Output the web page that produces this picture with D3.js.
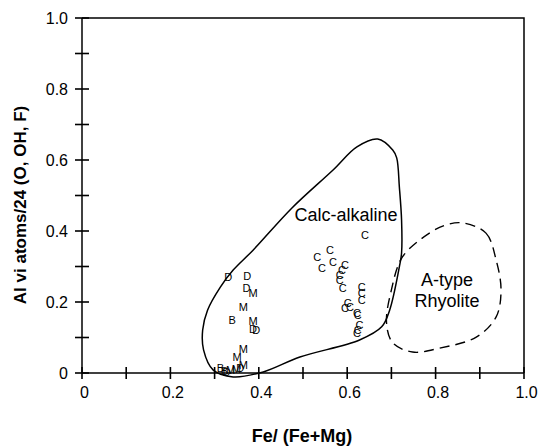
<!DOCTYPE html>
<html>
<head>
<meta charset="utf-8">
<script src="https://cdnjs.cloudflare.com/ajax/libs/d3/7.8.5/d3.min.js"></script>
<style>
    body { margin: 0; background: #fff; }
    svg { font-family: "Liberation Sans", Arial, sans-serif; }
    .axis path { stroke: #000; stroke-width: 1.5; }
    .axis text { font-size: 16px; fill: #000; }
    .tickmark { stroke: #000; stroke-width: 1.6; }
</style>
</head>
<body>
<svg id="chart" width="540" height="447"></svg>
<script>
    // tick values and labels
    const tickValues = [0, 0.1, 0.2, 0.3, 0.4, 0.5, 0.6, 0.7, 0.8, 0.9, 1.0];
    const labelValues = [0, 0.2, 0.4, 0.6, 0.8, 1.0];
    const tickLabels = ["0", "0.2", "0.4", "0.6", "0.8", "1.0"];

    // calc-alkaline field outline [Fe/(Fe+Mg), Al vi]
    const calcAlkaline = [
        [0.342, -0.011], [0.297, 0.008], [0.275, 0.065], [0.273, 0.121], [0.284, 0.177],
        [0.313, 0.242], [0.342, 0.290], [0.387, 0.346], [0.475, 0.465], [0.568, 0.572],
        [0.622, 0.637], [0.669, 0.659], [0.703, 0.628], [0.712, 0.606], [0.718, 0.524],
        [0.723, 0.431], [0.723, 0.338], [0.718, 0.299], [0.696, 0.177], [0.678, 0.130],
        [0.628, 0.093], [0.493, 0.045], [0.410, 0.003]
    ];

    // A-type rhyolite field outline
    const aType = [
        [0.860, 0.423], [0.914, 0.394], [0.937, 0.318], [0.948, 0.234], [0.937, 0.158],
        [0.892, 0.101], [0.809, 0.070], [0.748, 0.059], [0.703, 0.085], [0.689, 0.141],
        [0.700, 0.234], [0.725, 0.327], [0.786, 0.394], [0.824, 0.417]
    ];

    // samples: C
    const samplesC = [
        [0.640, 0.389], [0.532, 0.327], [0.561, 0.346], [0.543, 0.296], [0.568, 0.313],
        [0.595, 0.304], [0.588, 0.290], [0.583, 0.276], [0.583, 0.262], [0.590, 0.239],
        [0.633, 0.242], [0.633, 0.225], [0.633, 0.206], [0.601, 0.197], [0.595, 0.183],
        [0.606, 0.186], [0.622, 0.169], [0.624, 0.163], [0.628, 0.135], [0.624, 0.121],
        [0.622, 0.113]
    ];
    // samples: D
    const samplesD = [
        [0.331, 0.270], [0.374, 0.273], [0.372, 0.239], [0.387, 0.124], [0.394, 0.121],
        [0.327, 0.003], [0.358, 0.014]
    ];
    // samples: M
    const samplesM = [
        [0.387, 0.225], [0.365, 0.186], [0.387, 0.146], [0.365, 0.068], [0.351, 0.045],
        [0.365, 0.023], [0.336, 0.008], [0.349, 0.011]
    ];
    // samples: B
    const samplesB = [
        [0.340, 0.149], [0.313, 0.014], [0.322, 0.006]
    ];

    const svg = d3.select('#chart');

    const x = d3.scaleLinear().domain([0, 1]).range([82, 524]);
    const y = d3.scaleLinear().domain([0, 1]).range([373, 18]);

    // frame top + right
    svg.append('path')
        .attr('d', `M${x(0)},${y(1)}H${x(1)}V${y(0)}`)
        .attr('fill', 'none')
        .attr('stroke', '#000')
        .attr('stroke-width', 1.5);

    const xAxis = svg.append('g')
        .attr('class', 'axis')
        .attr('transform', `translate(0,${y(0)})`)
        .call(d3.axisBottom(x).tickValues(labelValues).tickSize(0).tickPadding(14)
            .tickFormat((d, i) => tickLabels[i]));
    xAxis.select('.domain').attr('d', `M${x(0)},0H${x(1)}`);
    xAxis.selectAll('.tick text').attr('dx', 2);

    const yAxis = svg.append('g')
        .attr('class', 'axis')
        .attr('transform', `translate(${x(0)},0)`)
        .call(d3.axisLeft(y).tickValues(labelValues).tickSize(0).tickPadding(14)
            .tickFormat((d, i) => tickLabels[i]));
    yAxis.select('.domain').attr('d', `M0,${y(0)}V${y(1)}`);

    // crossing tick marks every 0.1
    svg.append('g').selectAll('line')
        .data(tickValues)
        .join('line')
        .attr('class', 'tickmark')
        .attr('x1', d => x(d)).attr('x2', d => x(d))
        .attr('y1', y(0) - 6).attr('y2', y(0) + 6);
    svg.append('g').selectAll('line')
        .data(tickValues)
        .join('line')
        .attr('class', 'tickmark')
        .attr('y1', d => y(d)).attr('y2', d => y(d))
        .attr('x1', x(0) - 7).attr('x2', x(0) + 7);

    const line = d3.line()
        .x(d => x(d[0]))
        .y(d => y(d[1]))
        .curve(d3.curveCatmullRomClosed.alpha(0.5));

    svg.append('path')
        .attr('d', line(calcAlkaline))
        .attr('fill', 'none')
        .attr('stroke', '#000')
        .attr('stroke-width', 1.5);

    svg.append('path')
        .attr('d', line(aType))
        .attr('fill', 'none')
        .attr('stroke', '#000')
        .attr('stroke-width', 1.4)
        .attr('stroke-dasharray', '10,6');

    const groups = [['C', samplesC], ['D', samplesD], ['M', samplesM], ['B', samplesB]];
    groups.forEach(([letter, pts]) => {
        svg.append('g').selectAll('text')
            .data(pts)
            .join('text')
            .attr('x', d => x(d[0]))
            .attr('y', d => y(d[1]))
            .attr('dy', '0.35em')
            .attr('text-anchor', 'middle')
            .attr('font-size', 11)
            .text(letter);
    });

    svg.append('text')
        .attr('x', 346).attr('y', 221)
        .attr('text-anchor', 'middle')
        .attr('font-size', 18)
        .text('Calc-alkaline');

    svg.append('text')
        .attr('x', 447).attr('y', 286)
        .attr('text-anchor', 'middle')
        .attr('font-size', 18)
        .text('A-type');
    svg.append('text')
        .attr('x', 447).attr('y', 307)
        .attr('text-anchor', 'middle')
        .attr('font-size', 18)
        .text('Rhyolite');

    svg.append('text')
        .attr('x', 302).attr('y', 442)
        .attr('text-anchor', 'middle')
        .attr('font-size', 18)
        .attr('font-weight', 'bold')
        .text('Fe/ (Fe+Mg)');

    svg.append('text')
        .attr('transform', 'translate(26,205) rotate(-90)')
        .attr('text-anchor', 'middle')
        .attr('font-size', 17)
        .attr('font-weight', 'bold')
        .text('Al vi atoms/24 (O, OH, F)');
</script>
</body>
</html>
